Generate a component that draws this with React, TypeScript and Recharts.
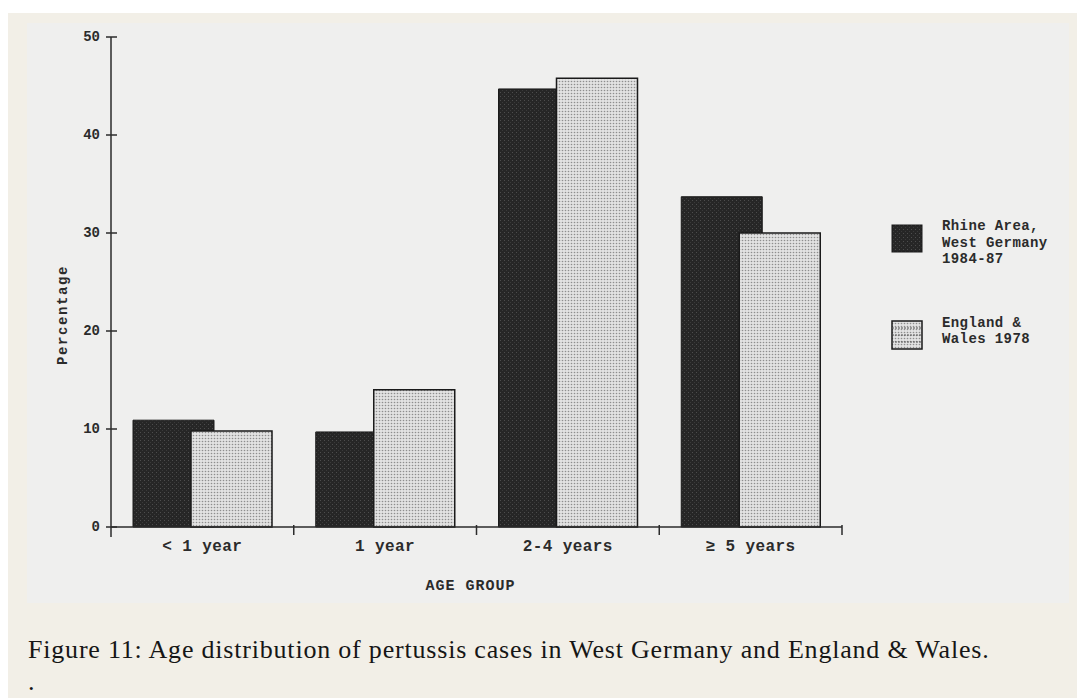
import React from 'react';
import { BarChart, Bar, XAxis, YAxis, Label } from 'recharts';

// age groups on the x axis
const ageGroups = ['< 1 year', '1 year', '2-4 years', '≥ 5 years'];
// percentages
const rhineArea = [10.9, 9.7, 44.7, 33.7];
const englandWales = [9.8, 14.0, 45.8, 30.0];
const yTicks = [0, 10, 20, 30, 40, 50];
const seriesNames = [['Rhine Area,', 'West Germany', '1984-87'], ['England &', 'Wales 1978']];

const data = ageGroups.map((group, i) => ({
  group,
  rhine: rhineArea[i],
  england: englandWales[i],
}));

const INK = '#2b2b2b';
const MONO = '"Liberation Mono", "DejaVu Sans Mono", monospace';
const CAPTION = { fontFamily: '"Liberation Serif", serif', fontSize: 26, letterSpacing: 0.8, color: '#161616', whiteSpace: 'nowrap' as const };

const Patterns: React.FC = () => (
  <svg width={0} height={0} style={{ position: 'absolute' }}>
    <defs>
      <pattern id="darkDots" width="4" height="4" patternUnits="userSpaceOnUse">
        <rect width="4" height="4" fill="#262626" />
        <rect x="1" y="1" width="1" height="1" fill="#4d4d4d" />
        <rect x="3" y="3" width="1" height="1" fill="#3a3a3a" />
      </pattern>
      <pattern id="lightDots" width="3" height="3" patternUnits="userSpaceOnUse">
        <rect width="3" height="3" fill="#e2e2e2" />
        <circle cx="1.5" cy="1.5" r="0.8" fill="#8e8e8e" />
      </pattern>
    </defs>
  </svg>
);

const YTick = (props: any) => {
  const { x, y, payload } = props;
  return (
    <g>
      <line x1={x - 5} x2={x + 6} y1={y} y2={y} stroke={INK} strokeWidth={1.5} />
      <text x={x - 11} y={y} textAnchor="end" dominantBaseline="central"
        fontFamily={MONO} fontWeight="bold" fontSize={14} fill={INK}>
        {payload.value}
      </text>
    </g>
  );
};

const GroupTick = (props: any) => {
  const { x, y, payload, index } = props;
  const half = payload?.offset ?? 0;
  return (
    <g>
      {index === 0 && <line x1={x - half} x2={x - half} y1={y} y2={y + 10} stroke={INK} strokeWidth={1.5} />}
      <line x1={x + half} x2={x + half} y1={y - 2} y2={y + 8} stroke={INK} strokeWidth={1.5} />
      <text x={x} y={y + 20} textAnchor="middle" dominantBaseline="central"
        fontFamily={MONO} fontWeight="bold" fontSize={16} letterSpacing={0.4} fill={INK}>
        {payload.value}
      </text>
    </g>
  );
};

const ScanLegend: React.FC = () => (
  <svg width={185} height={160} style={{ position: 'absolute', left: 855, top: 185 }}>
    <rect x={10} y={17} width={30} height={27} fill="url(#darkDots)" stroke="#1a1a1a" strokeWidth={1} />
    {seriesNames[0].map((line, i) => (
      <text key={line} x={60} y={18 + i * 16.5} dominantBaseline="central"
        fontFamily={MONO} fontWeight="bold" fontSize={14} letterSpacing={0.4} fill={INK}>{line}</text>
    ))}
    <rect x={10} y={113} width={30} height={28} fill="url(#lightDots)" stroke="#1a1a1a" strokeWidth={1.5} />
    {[0, 1, 2].map(r => (
      <line key={r} x1={10} x2={40} y1={120 + r * 7} y2={120 + r * 7} stroke="#555" strokeWidth={1} strokeDasharray="2 1" />
    ))}
    {seriesNames[1].map((line, i) => (
      <text key={line} x={60} y={115 + i * 16} dominantBaseline="central"
        fontFamily={MONO} fontWeight="bold" fontSize={14} letterSpacing={0.4} fill={INK}>{line}</text>
    ))}
  </svg>
);

const App: React.FC = () => {
  return (
    <div style={{ position: 'absolute', left: 8, top: 13, width: 1069, height: 685, background: '#f2efe7', overflow: 'hidden' }}>
      <Patterns />
      <div style={{ position: 'absolute', left: 19, top: 10, width: 1042, height: 580, background: '#efefee' }}>
        <BarChart width={1042} height={580} data={data} barSize={81} barGap={-23}
          margin={{ top: 14, right: 227, bottom: 46, left: 44 }}>
          <XAxis dataKey="group" height={30} tickSize={0} tickMargin={0} tickLine={false}
            axisLine={{ stroke: INK, strokeWidth: 1.5 }} tick={<GroupTick />} interval={0}>
            <Label content={({ viewBox }: any) => (
              <text x={viewBox.x + viewBox.width / 2 - 6} y={viewBox.y + 59} textAnchor="middle" dominantBaseline="central"
                fontFamily={MONO} fontWeight="bold" fontSize={15} letterSpacing={1} fill={INK}>AGE GROUP</text>
            )} />
          </XAxis>
          <YAxis width={40} domain={[0, 50]} ticks={yTicks} tickSize={0} tickMargin={0} tickLine={false}
            axisLine={{ stroke: INK, strokeWidth: 1.5 }} tick={<YTick />}>
            <Label content={({ viewBox }: any) => (
              <text x={viewBox.x + viewBox.width - 48} y={viewBox.y + 278} textAnchor="middle" dominantBaseline="central"
                transform={`rotate(-90 ${viewBox.x + viewBox.width - 48} ${viewBox.y + 278})`}
                fontFamily={MONO} fontWeight="bold" fontSize={14} letterSpacing={1.6} fill={INK}>Percentage</text>
            )} />
          </YAxis>
          <Bar dataKey="rhine" fill="url(#darkDots)" stroke="#1a1a1a" strokeWidth={1} isAnimationActive={false} />
          <Bar dataKey="england" fill="url(#lightDots)" stroke="#1a1a1a" strokeWidth={1.5} isAnimationActive={false} />
        </BarChart>
        <ScanLegend />
      </div>
      <div style={{ ...CAPTION, position: 'absolute', left: 20, top: 622, lineHeight: '30px' }}>
        Figure 11: Age distribution of pertussis cases in West Germany and England &amp; Wales.
      </div>
      <div style={{ ...CAPTION, position: 'absolute', left: 20, top: 659, lineHeight: '20px' }}>.</div>
    </div>
  );
};

export default App;
